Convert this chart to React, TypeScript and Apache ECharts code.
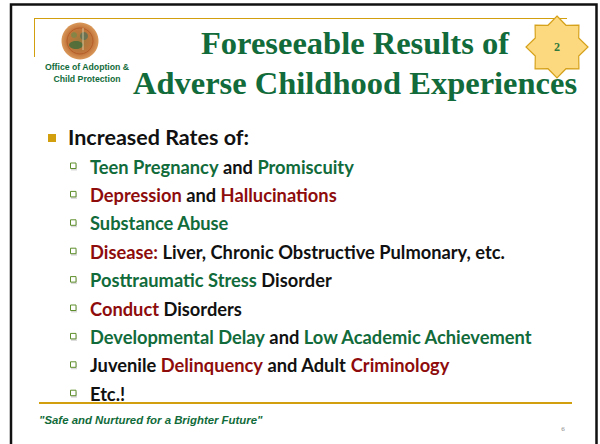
import React, { useEffect, useRef } from "react";
import * as echarts from "echarts";

const titleLines = ["Foreseeable Results of", "Adverse Childhood Experiences"];
const orgLines = ["Office of Adoption &", "Child Protection"];
const badgeLabel = "2";
const heading = "Increased Rates of:";
type Seg = [string, "g" | "r" | "k"];
const items: Seg[][] = [
  [["Teen Pregnancy", "g"], [" and ", "k"], ["Promiscuity", "g"]],
  [["Depression", "r"], [" and ", "k"], ["Hallucinations", "r"]],
  [["Substance Abuse", "g"]],
  [["Disease:", "r"], [" Liver, Chronic Obstructive Pulmonary, etc.", "k"]],
  [["Posttraumatic Stress", "g"], [" Disorder", "k"]],
  [["Conduct", "r"], [" Disorders", "k"]],
  [["Developmental Delay", "g"], [" and ", "k"], ["Low Academic Achievement", "g"]],
  [["Juvenile ", "k"], ["Delinquency", "r"], [" and Adult ", "k"], ["Criminology", "r"]],
  [["Etc.!", "k"]],
];
const footer = "\"Safe and Nurtured for a Brighter Future\"";
const pageNumber = "6";

const GREEN = "#116b3a";
const RED = "#8e0c0c";
const BLACK = "#111111";
const GOLD = "#d29f0f";
const BODY_FONT = "Lato";
const BODY_SIZE = 18.3;

function starPoints(cx: number, cy: number, R: number, r: number, n: number) {
  const pts: number[][] = [];
  for (let i = 0; i < n * 2; i++) {
    const a = -Math.PI / 2 + (i * Math.PI) / n;
    const rad = i % 2 === 0 ? R : r;
    pts.push([cx + rad * Math.cos(a), cy + rad * Math.sin(a)]);
  }
  return pts;
}

export default function App() {
  const ref = useRef<HTMLDivElement>(null);
  useEffect(() => {
    if (!ref.current) return;
    const chart = echarts.init(ref.current, null, { renderer: "svg" });
    const rowY0 = 166.5;
    const rowStep = 28.4;
    const graphics: any[] = [];

    // slide frame
    graphics.push({
      type: "rect",
      shape: { x: 11, y: 4.5, width: 585.5, height: 470 },
      style: { fill: "#ffffff", stroke: "#111111", lineWidth: 2.5 },
    });
    // gold top lines
    graphics.push({ type: "line", shape: { x1: 34, y1: 18.5, x2: 567, y2: 18.5 }, style: { stroke: GOLD, lineWidth: 1 } });
    graphics.push({ type: "line", shape: { x1: 34.5, y1: 18, x2: 34.5, y2: 57 }, style: { stroke: GOLD, lineWidth: 1 } });
    // bottom gold line
    graphics.push({ type: "line", shape: { x1: 39, y1: 403, x2: 572, y2: 403 }, style: { stroke: GOLD, lineWidth: 2 } });

    // logo seal
    graphics.push({
      type: "circle",
      shape: { cx: 80, cy: 41, r: 18.5 },
      style: {
        fill: new echarts.graphic.RadialGradient(0.5, 0.5, 0.5, [
          { offset: 0, color: "#9c7a3c" },
          { offset: 0.7, color: "#c4763c" },
          { offset: 1, color: "#d9995a" },
        ]),
      },
    });
    graphics.push({ type: "circle", shape: { cx: 80, cy: 41, r: 13 }, style: { fill: "none", stroke: "#b45f2a", lineWidth: 1 } });
    graphics.push({ type: "ellipse", shape: { cx: 76, cy: 45, rx: 7, ry: 4 }, style: { fill: "#3e6b3a", opacity: 0.8 } });
    graphics.push({ type: "circle", shape: { cx: 84, cy: 36, r: 4 }, style: { fill: "#4b6f5a", opacity: 0.7 } });
    graphics.push({ type: "circle", shape: { cx: 74, cy: 35, r: 3 }, style: { fill: "#6f8a4a", opacity: 0.7 } });
    graphics.push({ type: "line", shape: { x1: 83, y1: 28, x2: 83, y2: 50 }, style: { stroke: "#e8d8b0", lineWidth: 1, opacity: 0.8 } });

    orgLines.forEach((t, i) => {
      graphics.push({
        type: "text",
        x: 87,
        y: 67 + i * 12,
        style: {
          text: t,
          fill: GREEN,
          font: "bold 8.7px 'Liberation Sans', Arial, sans-serif",
          textAlign: "center",
          textVerticalAlign: "middle",
        },
      });
    });

    // title
    titleLines.forEach((t, i) => {
      graphics.push({
        type: "text",
        x: 355,
        y: 43 + i * 40,
        style: {
          text: t,
          fill: GREEN,
          font: "bold 32.5px 'Liberation Serif', 'Times New Roman', serif",
          textAlign: "center",
          textVerticalAlign: "middle",
        },
      });
    });

    // star badge
    graphics.push({
      type: "polygon",
      shape: { points: starPoints(557, 47, 31, 23.5, 8) },
      style: { fill: "#fcd87e", stroke: "#d6a21c", lineWidth: 1.2 },
    });
    graphics.push({
      type: "text",
      x: 557,
      y: 47,
      style: {
        text: badgeLabel,
        fill: "#2f7a3c",
        font: "bold 12px 'Liberation Serif', serif",
        textAlign: "center",
        textVerticalAlign: "middle",
      },
    });

    // heading bullet
    graphics.push({ type: "rect", shape: { x: 48, y: 134, width: 8, height: 8 }, style: { fill: GOLD } });
    graphics.push({
      type: "text",
      x: 68,
      y: 137,
      style: {
        text: heading,
        fill: BLACK,
        font: `bold 21.5px '${BODY_FONT}', sans-serif`,
        textVerticalAlign: "middle",
      },
    });

    const rich = {
      g: { fill: GREEN, font: `bold ${BODY_SIZE}px '${BODY_FONT}', sans-serif` },
      r: { fill: RED, font: `bold ${BODY_SIZE}px '${BODY_FONT}', sans-serif` },
      k: { fill: BLACK, font: `bold ${BODY_SIZE}px '${BODY_FONT}', sans-serif` },
    };

    items.forEach((segs, i) => {
      const y = rowY0 + i * rowStep;
      graphics.push({
        type: "rect",
        shape: { x: 71, y: y - 2, width: 6, height: 6 },
        style: { fill: "#d9d9d9" },
      });
      graphics.push({
        type: "rect",
        shape: { x: 70.5, y: y - 3.5, width: 5.5, height: 5.5 },
        style: { fill: "#ffffff", stroke: "#5e8f2c", lineWidth: 1 },
      });
      graphics.push({
        type: "text",
        x: 90,
        y: y,
        style: {
          text: segs.map(([t, c]) => `{${c}|${t}}`).join(""),
          rich,
          font: `bold ${BODY_SIZE}px '${BODY_FONT}', sans-serif`,
          textVerticalAlign: "middle",
        },
      });
    });

    // footer
    graphics.push({
      type: "text",
      x: 39,
      y: 420,
      style: {
        text: footer,
        fill: GREEN,
        font: "italic bold 11.4px 'Liberation Sans', Arial, sans-serif",
        textVerticalAlign: "middle",
      },
    });
    graphics.push({
      type: "text",
      x: 563,
      y: 429,
      style: {
        text: pageNumber,
        fill: "#888888",
        font: "7px 'Liberation Serif', serif",
        textAlign: "center",
        textVerticalAlign: "middle",
      },
    });

    chart.setOption({
      animation: false,
      backgroundColor: "#ffffff",
      graphic: { elements: graphics },
    });
    return () => chart.dispose();
  }, []);
  return (
    <div
      ref={ref}
      style={{ position: "fixed", left: 0, top: 0, width: 600, height: 444 }}
    />
  );
}
